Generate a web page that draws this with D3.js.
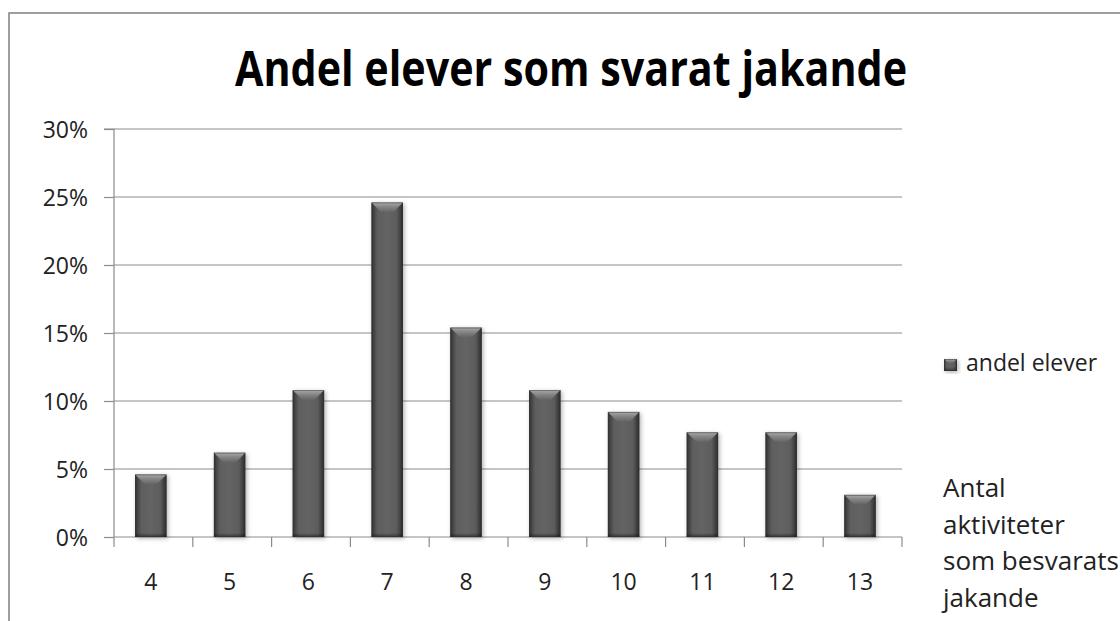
<!DOCTYPE html>
<html><head><meta charset="utf-8">
<script src="https://cdn.jsdelivr.net/npm/d3@7"></script>
<style>body{margin:0;background:#fff;overflow:hidden}</style>
</head><body><svg id="c" width="1120" height="621"></svg>
<script>
const categories = ["4","5","6","7","8","9","10","11","12","13"];
const values = [4.6, 6.2, 10.8, 24.6, 15.4, 10.8, 9.2, 7.7, 7.7, 3.1];
const yTicks = [0, 5, 10, 15, 20, 25, 30];
const yTickLabels = ["0%","5%","10%","15%","20%","25%","30%"];
const titleText = "Andel elever som svarat jakande";
const seriesName = "andel elever";
const xAxisTitle = ["Antal", "aktiviteter", "som besvarats", "jakande"];

const svg = d3.select("#c");
const font = "'Open Sans', sans-serif";
const L = 114, R = 902, T = 129, B = 537;

const x = d3.scaleBand().domain(categories).range([L, R])
  .paddingInner(0.6).paddingOuter(0.3).align(0.445);
const xSlot = d3.scaleBand().domain(categories).range([L, R]);
const y = d3.scaleLinear().domain([0, 30]).range([B, T]);

const defs = svg.append("defs");
const hg = defs.append("linearGradient").attr("id","hg").attr("x1","0").attr("x2","1").attr("y1","0").attr("y2","0");
[[0,"#2e2e2e"],[0.1,"#4a4a4a"],[0.2,"#5e5e5e"],[0.5,"#646464"],[0.8,"#5c5c5c"],[0.9,"#444"],[1,"#2a2a2a"]]
  .forEach(([o,c]) => hg.append("stop").attr("offset",o).attr("stop-color",c));
const vg = defs.append("linearGradient").attr("id","vg").attr("x1","0").attr("x2","0").attr("y1","0").attr("y2","1");
[[0,"#b4b4b4"],[0.4,"#8c8c8c"],[1,"#626262"]]
  .forEach(([o,c]) => vg.append("stop").attr("offset",o).attr("stop-color",c));
const bg = defs.append("linearGradient").attr("id","bg").attr("x1","0").attr("x2","0").attr("y1","0").attr("y2","1");
[[0,"rgba(0,0,0,0)"],[1,"rgba(0,0,0,0.45)"]]
  .forEach(([o,c]) => bg.append("stop").attr("offset",o).attr("stop-color",c));
const f = defs.append("filter").attr("id","sh").attr("x","-30%").attr("y","-10%").attr("width","160%").attr("height","130%");
f.append("feDropShadow").attr("dx",1.5).attr("dy",1.5).attr("stdDeviation",2).attr("flood-color","#000").attr("flood-opacity",0.3);

// frame
svg.append("rect").attr("x",9).attr("y",13).attr("width",1130).attr("height",640)
  .attr("fill","none").attr("stroke","#878787").attr("stroke-width",1.6);

// title
svg.append("text").attr("x", 571).attr("y", 86).attr("text-anchor","middle")
  .attr("font-family", font).attr("font-weight","bold").attr("font-size",48)
  .attr("fill","#000").attr("textLength", 672).attr("lengthAdjust","spacingAndGlyphs")
  .text(titleText);

// gridlines
svg.append("g").selectAll("line").data(yTicks.slice(1)).join("line")
  .attr("x1", L).attr("x2", R).attr("y1", d => y(d)).attr("y2", d => y(d))
  .attr("stroke","#8c8c8c").attr("stroke-width",1.2);

// y axis
const yAxis = d3.axisLeft(y).tickValues(yTicks).tickSize(10).tickPadding(16)
  .tickFormat((d,i) => yTickLabels[i]);
const gy = svg.append("g").attr("transform",`translate(${L},0)`).call(yAxis);
gy.select(".domain").attr("stroke","#8c8c8c").attr("stroke-width",1.2).attr("d",`M-10,${T}H0V${B}`);
gy.selectAll(".tick line").attr("stroke","#8c8c8c").attr("stroke-width",1.2);
gy.selectAll(".tick text").attr("font-family",font).attr("font-size",23).attr("fill","#222").attr("dy","0.35em");

// x axis baseline and ticks
svg.append("line").attr("x1",L).attr("x2",R).attr("y1",B).attr("y2",B)
  .attr("stroke","#8c8c8c").attr("stroke-width",1.2);
svg.append("g").selectAll("line").data(categories.map(c => xSlot(c)).concat([R])).join("line")
  .attr("x1", d => d).attr("x2", d => d).attr("y1", B).attr("y2", B + 10)
  .attr("stroke","#8c8c8c").attr("stroke-width",1.2);
svg.append("g").selectAll("text").data(categories).join("text")
  .attr("x", c => x(c) + x.bandwidth()/2).attr("y", 590).attr("text-anchor","middle")
  .attr("font-family",font).attr("font-size",23).attr("fill","#222").text(c => c);

// bars
function bevelBar(g, bx, by, w, h) {
  const b = Math.min(10, h/2, w/3);
  g.append("rect").attr("x",bx).attr("y",by).attr("width",w).attr("height",h).attr("fill","url(#hg)");
  g.append("path").attr("d",`M${bx},${by}H${bx+w}L${bx+w-b},${by+b}H${bx+b}Z`).attr("fill","url(#vg)").attr("opacity",0.9);
  g.append("rect").attr("x",bx).attr("y",by+h-4).attr("width",w).attr("height",4).attr("fill","url(#bg)");
  g.append("rect").attr("x",bx+0.5).attr("y",by+0.5).attr("width",w-1).attr("height",h-1)
    .attr("fill","none").attr("stroke","#333").attr("stroke-width",0.8).attr("stroke-opacity",0.6);
}
const gb = svg.append("g");
categories.forEach((c, i) => {
  const g = gb.append("g").attr("filter","url(#sh)");
  bevelBar(g, x(c), y(values[i]), x.bandwidth(), y(0) - y(values[i]));
});

// legend
const lg = svg.append("g").attr("filter","url(#sh)");
bevelBar(lg, 944, 359, 13, 12);
svg.append("text").attr("x",966).attr("y",371).attr("font-family",font).attr("font-size",23)
  .attr("fill","#222").text(seriesName);

// x axis title
svg.append("g").selectAll("text").data(xAxisTitle).join("text")
  .attr("x", 943).attr("y", (d,i) => 497 + i*36.7)
  .attr("font-family",font).attr("font-size",26).attr("fill","#222").text(d => d);
</script></body></html>
